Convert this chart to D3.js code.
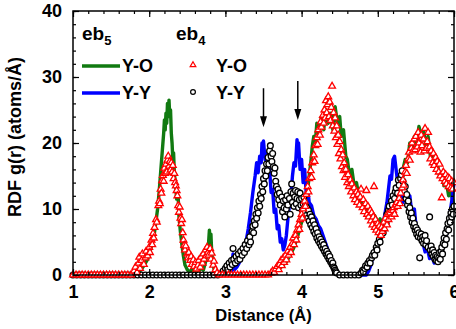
<!DOCTYPE html>
<html>
<head>
<meta charset="utf-8">
<script src="https://cdn.jsdelivr.net/npm/d3@7"></script>
<style>
    body { margin: 0; background: #fff; }
    svg text { font-family: "Liberation Sans", Arial, sans-serif; font-weight: bold; fill: #000; }
</style>
</head>
<body>
<div id="chart"></div>
<script>
// eb5 curves (lines)
const eb5YO = [
    [1.0, 0], [1.8, 0], [1.86, 0.4], [1.9, 0.9], [1.94, 1.6], [1.98, 2.4], [2.01, 3.5], [2.04, 4.8], [2.07, 6.5],
    [2.09, 8.2], [2.11, 10], [2.13, 12.5], [2.15, 15.5], [2.17, 18.5], [2.19, 21.5], [2.2, 23.5], [2.21, 22],
    [2.22, 24.5], [2.23, 23], [2.24, 26], [2.25, 24.5], [2.26, 26.5], [2.27, 24], [2.28, 25], [2.29, 21.5],
    [2.3, 20], [2.31, 17.5], [2.32, 18.5], [2.33, 15.5], [2.35, 13], [2.36, 11.5], [2.38, 12], [2.39, 9],
    [2.41, 6.5], [2.43, 4.5], [2.45, 2.8], [2.47, 1.5], [2.5, 0.8], [2.53, 0.4], [2.56, 0.9], [2.59, 0.3],
    [2.62, 0.8], [2.65, 0.4], [2.68, 1.2], [2.71, 0.7], [2.74, 2], [2.76, 3.5], [2.78, 5], [2.79, 6.8],
    [2.8, 5.2], [2.81, 6.2], [2.82, 3.5], [2.84, 1.5], [2.86, 0.4], [2.9, 0], [3.5, 0], [3.56, 0.2],
    [3.62, 0.5], [3.68, 0.7], [3.74, 1.3], [3.8, 2], [3.85, 3], [3.9, 4.2], [3.94, 5.5], [3.97, 6.8],
    [4.0, 8], [4.03, 9.5], [4.05, 10.5], [4.08, 13], [4.1, 15], [4.12, 17], [4.14, 19.5], [4.16, 21],
    [4.18, 20], [4.2, 23], [4.23, 21.5], [4.26, 24], [4.29, 22], [4.32, 25], [4.35, 23], [4.38, 24.5],
    [4.41, 22], [4.44, 25.5], [4.47, 23], [4.5, 24], [4.52, 21], [4.55, 22], [4.58, 18], [4.6, 17.5],
    [4.63, 15], [4.66, 16], [4.69, 13.5], [4.72, 14], [4.75, 12], [4.78, 11], [4.81, 10.5], [4.84, 9.5],
    [4.87, 10], [4.9, 9], [4.93, 8.5], [4.96, 9], [5.0, 8], [5.03, 8.5], [5.06, 7.5], [5.09, 8],
    [5.12, 8.5], [5.15, 9.5], [5.18, 9], [5.21, 11], [5.24, 13], [5.27, 12.5], [5.3, 15], [5.33, 16],
    [5.36, 17.5], [5.39, 17], [5.42, 20], [5.45, 19], [5.48, 21], [5.51, 20], [5.54, 22.5], [5.57, 21],
    [5.6, 22], [5.63, 19.5], [5.66, 21], [5.69, 18], [5.72, 18.5], [5.75, 16.5], [5.78, 17], [5.81, 15],
    [5.84, 15.5], [5.87, 13.5], [5.9, 14], [5.93, 12], [5.96, 12.5], [6.0, 10.5]
];

const eb5YY = [
    [1.0, 0], [3.05, 0], [3.08, 0.5], [3.1, 3.2], [3.12, 0.8], [3.15, 1.2], [3.18, 1.8], [3.21, 2.5],
    [3.24, 3.5], [3.27, 5], [3.3, 7], [3.33, 9.5], [3.36, 12.5], [3.39, 15], [3.41, 17], [3.43, 15.5],
    [3.45, 18], [3.47, 17], [3.48, 20], [3.49, 19], [3.5, 20.3], [3.52, 17.5], [3.54, 18.5], [3.56, 15],
    [3.58, 16], [3.6, 12.5], [3.62, 13], [3.64, 9.5], [3.66, 10], [3.68, 7], [3.7, 7.5], [3.72, 5],
    [3.74, 5.5], [3.76, 3.8], [3.78, 4.5], [3.8, 6], [3.82, 8.5], [3.84, 10.5], [3.86, 12], [3.88, 15],
    [3.9, 17], [3.92, 16.5], [3.94, 20.5], [3.95, 19], [3.96, 20], [3.98, 16], [4.0, 17.5], [4.02, 14],
    [4.04, 16], [4.06, 12.5], [4.08, 13], [4.1, 11], [4.13, 10.5], [4.16, 9], [4.19, 8.5], [4.22, 7.5],
    [4.25, 7], [4.28, 6], [4.31, 5], [4.34, 4], [4.37, 2.5], [4.4, 1.5], [4.43, 0.6], [4.47, 0.1],
    [4.5, 0], [4.85, 0], [4.88, 0.6], [4.91, 1.5], [4.94, 3], [4.97, 3.8], [5.0, 5], [5.03, 6],
    [5.06, 7.5], [5.09, 9], [5.12, 11], [5.14, 13], [5.16, 15], [5.18, 14.5], [5.2, 17.5], [5.22, 18],
    [5.24, 16], [5.26, 14], [5.28, 12.5], [5.3, 13], [5.33, 11], [5.36, 12], [5.39, 10.5], [5.42, 12],
    [5.45, 9], [5.48, 10], [5.5, 7.5], [5.53, 7], [5.56, 5.5], [5.59, 5], [5.62, 3.5], [5.65, 4],
    [5.68, 2.5], [5.71, 3], [5.74, 1.8], [5.77, 2.2], [5.8, 3.5], [5.83, 3], [5.86, 4.5], [5.89, 5.5],
    [5.92, 7.5], [5.95, 9.5], [5.98, 12], [6.0, 14]
];

// eb4 points (markers)
const eb4YO = [
    [1.0, 0], [1.04, 0], [1.08, 0], [1.12, 0], [1.16, 0], [1.2, 0], [1.24, 0], [1.28, 0], [1.32, 0], [1.36, 0],
    [1.4, 0], [1.44, 0], [1.48, 0], [1.52, 0], [1.56, 0], [1.6, 0], [1.64, 0], [1.68, 0], [1.72, 0], [1.76, 0],
    [1.8, 0.6], [1.82, 1.2], [1.84, 0.4], [1.86, 1.8], [1.87, 2.7], [1.88, 1.0], [1.9, 2.2], [1.91, 3.2],
    [1.93, 1.6], [1.95, 2.6], [1.96, 3.6], [1.98, 2.9], [2.0, 4.2], [2.01, 3.4], [2.03, 5.3], [2.04, 4.6],
    [2.05, 6.3], [2.06, 5.6], [2.07, 7.2], [2.09, 8.4], [2.1, 8.0], [2.12, 10.5], [2.13, 11.2], [2.14, 10.8],
    [2.15, 13.0], [2.16, 12.4], [2.17, 14.3], [2.18, 15.1], [2.19, 14.2], [2.2, 16.2], [2.21, 15.4],
    [2.22, 16.8], [2.23, 15.6], [2.24, 17.4], [2.25, 18.0], [2.26, 16.5], [2.27, 17.2], [2.28, 15.9],
    [2.29, 17.0], [2.3, 15.6], [2.31, 16.6], [2.32, 14.6], [2.33, 15.4], [2.34, 14.0], [2.35, 13.5],
    [2.36, 12.8], [2.37, 12.0], [2.38, 10.5], [2.39, 9.5], [2.4, 10.3], [2.41, 8.6], [2.42, 7.8], [2.43, 8.4],
    [2.44, 6.4], [2.45, 5.3], [2.46, 4.5], [2.47, 3.8], [2.48, 4.4], [2.5, 3.2], [2.51, 2.6], [2.52, 3.4],
    [2.54, 2.2], [2.55, 2.8], [2.56, 1.6], [2.58, 2.3], [2.59, 1.3], [2.61, 1.9], [2.62, 0.9], [2.64, 1.5],
    [2.65, 2.2], [2.67, 1.2], [2.68, 2.7], [2.7, 1.8], [2.71, 3.2], [2.72, 2.4], [2.74, 3.8], [2.75, 2.9],
    [2.76, 4.2], [2.77, 3.4], [2.78, 3.0], [2.8, 4.0], [2.81, 2.4], [2.82, 3.3], [2.84, 1.5], [2.85, 2.1],
    [2.87, 0.8], [2.89, 0.3],
    [2.92, 0], [2.96, 0], [3.0, 0], [3.04, 0], [3.08, 0], [3.12, 0], [3.16, 0], [3.2, 0], [3.24, 0],
    [3.28, 0], [3.32, 0], [3.36, 0], [3.4, 0], [3.44, 0], [3.48, 0], [3.52, 0], [3.56, 0],
    [3.6, 0.3], [3.62, 0.6], [3.64, 0.4], [3.66, 0.9], [3.68, 1.3], [3.7, 0.8], [3.71, 1.6], [3.73, 2.2],
    [3.74, 1.4], [3.76, 2.6], [3.77, 1.9], [3.79, 3.0], [3.8, 2.3], [3.82, 3.6], [3.83, 3.0], [3.85, 4.2],
    [3.86, 3.4], [3.88, 4.8], [3.89, 5.6], [3.9, 4.6], [3.92, 6.0], [3.93, 5.3], [3.94, 6.8], [3.96, 7.6],
    [3.97, 6.9], [3.98, 8.4], [4.0, 9.2], [4.01, 8.6], [4.02, 10.0], [4.04, 11.2], [4.05, 10.4], [4.06, 12.2],
    [4.08, 13.4], [4.09, 12.6], [4.1, 14.6], [4.12, 15.8], [4.13, 14.8], [4.14, 17.0], [4.16, 18.2],
    [4.17, 17.2], [4.18, 19.6], [4.2, 20.8], [4.21, 19.8], [4.22, 22.0], [4.24, 21.2], [4.25, 23.2],
    [4.26, 22.4], [4.28, 24.2], [4.29, 23.0], [4.3, 25.0], [4.31, 23.8], [4.32, 26.4], [4.33, 24.6],
    [4.34, 25.8], [4.35, 27.0], [4.36, 24.0], [4.37, 26.2], [4.38, 23.4], [4.39, 25.4], [4.4, 28.6],
    [4.41, 22.6], [4.42, 24.6], [4.43, 21.8], [4.44, 23.8], [4.45, 20.8], [4.46, 22.6], [4.47, 19.8],
    [4.48, 21.2], [4.49, 18.4], [4.5, 20.2], [4.51, 17.6], [4.52, 19.0], [4.53, 16.4], [4.54, 18.2],
    [4.55, 15.8], [4.56, 17.0], [4.57, 14.8], [4.58, 16.0], [4.6, 14.0], [4.61, 15.2], [4.62, 13.4],
    [4.64, 14.4], [4.65, 12.6], [4.66, 13.8], [4.68, 12.0], [4.69, 13.2], [4.7, 11.4], [4.72, 12.6],
    [4.73, 11.0], [4.74, 12.2], [4.76, 10.6], [4.77, 11.8], [4.78, 13.0], [4.8, 10.2], [4.81, 11.4],
    [4.82, 9.6], [4.84, 10.8], [4.85, 12.8], [4.86, 9.2], [4.87, 10.4], [4.88, 8.8], [4.9, 9.8], [4.91, 8.2],
    [4.92, 9.4], [4.93, 7.6], [4.94, 8.8], [4.95, 13.4], [4.96, 7.2], [4.97, 8.4], [4.98, 6.8], [5.0, 7.8],
    [5.01, 6.4], [5.02, 7.4], [5.04, 6.0], [5.05, 7.2], [5.06, 6.6], [5.08, 8.0], [5.09, 7.0], [5.1, 8.6],
    [5.12, 7.6], [5.13, 9.2], [5.14, 8.4], [5.16, 9.4], [5.18, 8.8], [5.2, 9.8], [5.21, 10.2], [5.22, 9.2],
    [5.24, 10.6], [5.25, 11.0], [5.26, 10.4], [5.28, 11.6], [5.29, 10.8], [5.3, 12.4], [5.32, 13.2],
    [5.33, 14.4], [5.34, 13.6], [5.36, 15.6], [5.37, 16.6], [5.38, 15.4], [5.4, 17.6], [5.41, 18.6],
    [5.42, 17.4], [5.44, 19.2], [5.45, 20.0], [5.46, 18.8], [5.48, 20.6], [5.49, 19.0], [5.5, 21.0],
    [5.52, 19.4], [5.53, 21.6], [5.54, 20.0], [5.56, 18.6], [5.57, 21.2], [5.58, 19.6], [5.6, 20.6],
    [5.61, 18.8], [5.62, 22.2], [5.64, 19.2], [5.65, 20.2], [5.66, 21.6], [5.68, 19.4], [5.69, 17.6],
    [5.7, 18.8], [5.72, 17.0], [5.73, 18.4], [5.74, 16.6], [5.76, 17.8], [5.77, 16.0], [5.78, 17.2],
    [5.8, 15.6], [5.81, 16.8], [5.82, 15.0], [5.84, 11.7], [5.85, 14.6], [5.86, 15.6], [5.88, 14.2],
    [5.89, 15.2], [5.9, 13.8], [5.92, 14.8], [5.93, 13.4], [5.94, 14.6], [5.96, 13.2], [5.97, 14.2],
    [5.98, 13.0], [6.0, 14.0]
];

const eb4YY = [
    [1.0, 0], [1.05, 0], [1.1, 0], [1.15, 0], [1.2, 0], [1.25, 0], [1.3, 0], [1.35, 0], [1.4, 0], [1.45, 0],
    [1.5, 0], [1.55, 0], [1.6, 0], [1.65, 0], [1.7, 0], [1.75, 0], [1.8, 0], [1.85, 0], [1.9, 0], [1.95, 0],
    [2.0, 0], [2.05, 0], [2.1, 0], [2.15, 0], [2.2, 0], [2.25, 0], [2.3, 0], [2.35, 0], [2.4, 0], [2.45, 0],
    [2.5, 0], [2.55, 0], [2.6, 0], [2.65, 0], [2.7, 0], [2.75, 0], [2.8, 0], [2.85, 0], [2.9, 0],
    [2.95, 0.2], [2.97, 0.6], [2.99, 0.3], [3.0, 1.0], [3.02, 1.4], [3.03, 0.8], [3.05, 1.8], [3.06, 1.2],
    [3.08, 2.2], [3.09, 1.6], [3.1, 4.0], [3.11, 2.4], [3.13, 1.8], [3.14, 2.8], [3.16, 2.2], [3.17, 3.2],
    [3.19, 2.4], [3.2, 3.6], [3.22, 3.0], [3.23, 4.0], [3.25, 3.4], [3.26, 4.6], [3.28, 4.0], [3.29, 5.2],
    [3.31, 4.6], [3.32, 5.8], [3.33, 5.0], [3.35, 6.6], [3.36, 7.4], [3.37, 6.4], [3.38, 8.2], [3.39, 7.6],
    [3.4, 9.2], [3.41, 8.6], [3.42, 10.2], [3.43, 9.4], [3.44, 11.2], [3.45, 10.4], [3.46, 12.2], [3.47, 11.6],
    [3.48, 13.4], [3.49, 12.6], [3.5, 14.6], [3.51, 13.8], [3.52, 15.8], [3.53, 15.0], [3.54, 16.8],
    [3.55, 15.8], [3.56, 17.8], [3.57, 16.8], [3.58, 18.8], [3.59, 19.6], [3.6, 18.0], [3.61, 17.2],
    [3.62, 18.4], [3.63, 16.4], [3.64, 15.4], [3.65, 16.2], [3.66, 14.2], [3.67, 13.4], [3.68, 12.2],
    [3.69, 13.0], [3.7, 11.4], [3.71, 12.4], [3.72, 10.6], [3.74, 11.8], [3.75, 9.6], [3.76, 11.2],
    [3.77, 10.2], [3.78, 8.8], [3.79, 11.4], [3.8, 10.0], [3.81, 12.0], [3.82, 10.6], [3.84, 11.6],
    [3.85, 9.2], [3.86, 12.6], [3.87, 13.8], [3.88, 11.0], [3.89, 12.4], [3.9, 10.4], [3.91, 11.8],
    [3.92, 12.8], [3.93, 10.8], [3.94, 11.6], [3.95, 12.6], [3.96, 10.2], [3.97, 11.4], [3.98, 12.4],
    [3.99, 10.6], [4.0, 11.6], [4.01, 9.8], [4.02, 10.8], [4.03, 11.8], [4.04, 9.6], [4.05, 10.6],
    [4.06, 9.0], [4.07, 10.2], [4.08, 8.6], [4.09, 9.8], [4.1, 8.2], [4.11, 9.2], [4.12, 7.6], [4.13, 8.8],
    [4.14, 7.2], [4.15, 8.2], [4.16, 6.6], [4.17, 7.6], [4.18, 6.2], [4.19, 7.0], [4.2, 5.6], [4.21, 6.4],
    [4.22, 5.2], [4.23, 5.8], [4.24, 4.8], [4.25, 5.4], [4.26, 4.4], [4.27, 5.0], [4.28, 4.0], [4.29, 4.6],
    [4.3, 3.6], [4.31, 4.0], [4.32, 3.2], [4.33, 3.6], [4.34, 2.8], [4.35, 3.2], [4.36, 2.4], [4.37, 2.8],
    [4.38, 2.0], [4.39, 2.2], [4.4, 1.6], [4.41, 1.8], [4.42, 1.2], [4.43, 1.0], [4.44, 0.7], [4.45, 0.5],
    [4.46, 0.3], [4.5, 0], [4.55, 0], [4.6, 0], [4.65, 0], [4.7, 0], [4.75, 0],
    [4.78, 0.3], [4.8, 0.7], [4.81, 0.5], [4.83, 1.0], [4.84, 1.4], [4.86, 1.2], [4.87, 1.8], [4.89, 2.2],
    [4.9, 1.8], [4.92, 2.6], [4.93, 3.0], [4.95, 3.4], [4.96, 3.0], [4.98, 4.2], [4.99, 3.8], [5.0, 4.8],
    [5.02, 5.4], [5.03, 5.0], [5.04, 6.0], [5.06, 6.8], [5.07, 6.4], [5.08, 7.6], [5.1, 8.2], [5.11, 7.8],
    [5.12, 9.2], [5.14, 9.8], [5.15, 10.4], [5.16, 9.6], [5.18, 11.2], [5.19, 10.6], [5.2, 12.0],
    [5.22, 11.6], [5.23, 12.6], [5.24, 13.2], [5.26, 12.4], [5.27, 14.4], [5.28, 13.6], [5.3, 14.6],
    [5.31, 15.2], [5.32, 15.8], [5.33, 14.2], [5.34, 13.4], [5.35, 12.6], [5.36, 13.4], [5.37, 11.6],
    [5.38, 12.2], [5.39, 10.6], [5.4, 11.2], [5.41, 9.6], [5.42, 10.2], [5.43, 8.8], [5.44, 9.4],
    [5.45, 8.0], [5.46, 8.6], [5.47, 7.4], [5.48, 7.8], [5.49, 6.8], [5.5, 7.2], [5.51, 6.2], [5.52, 6.8],
    [5.53, 5.8], [5.54, 6.4], [5.55, 2.6], [5.56, 5.6], [5.57, 6.2], [5.58, 5.2], [5.59, 5.8], [5.6, 4.8],
    [5.61, 5.4], [5.62, 6.0], [5.63, 4.6], [5.64, 5.2], [5.66, 4.2], [5.68, 8.8], [5.69, 3.8], [5.7, 4.4],
    [5.71, 3.2], [5.72, 3.8], [5.73, 2.8], [5.74, 3.4], [5.75, 2.4], [5.76, 3.0], [5.77, 2.2], [5.78, 2.8],
    [5.79, 2.0], [5.8, 2.6], [5.81, 3.4], [5.82, 2.4], [5.83, 3.6], [5.84, 4.2], [5.85, 3.2], [5.86, 4.8],
    [5.87, 5.6], [5.88, 4.6], [5.89, 6.4], [5.9, 5.4], [5.91, 7.0], [5.92, 7.8], [5.93, 6.8], [5.94, 8.6],
    [5.95, 8.0], [5.96, 9.4], [5.97, 8.8], [5.98, 10.0], [5.99, 9.2], [6.0, 10.4]
];

// arrows marking the split Y-Y peak
const arrowX = [3.5, 3.95];
const arrowTop = [28.3, 29.4];
const arrowTip = [22.4, 23.5];

const xTicks = [1, 2, 3, 4, 5, 6];
const yTicks = [0, 10, 20, 30, 40];

const width = 456, height = 329;
const margin = { top: 11, right: 2, bottom: 54, left: 73 };

const svg = d3.select("#chart").append("svg")
    .attr("width", width)
    .attr("height", height);

const x = d3.scaleLinear().domain([1, 6]).range([margin.left, width - margin.right]);
const y = d3.scaleLinear().domain([0, 40]).range([height - margin.bottom, margin.top]);

const green = "#117a11", blue = "#0000ff", red = "#ff0000";

// lines
const line = d3.line().x(d => x(d[0])).y(d => y(d[1]));

svg.append("path").datum(eb5YO)
    .attr("fill", "none").attr("stroke", green).attr("stroke-width", 3.4)
    .attr("stroke-linejoin", "round")
    .attr("d", line);

svg.append("path").datum(eb5YY)
    .attr("fill", "none").attr("stroke", blue).attr("stroke-width", 3.4)
    .attr("stroke-linejoin", "round")
    .attr("d", line);

// markers
const tri = d3.symbol().type(d3.symbolTriangle).size(20);

svg.append("g").selectAll("circle")
    .data(eb4YY)
    .join("circle")
    .attr("cx", d => x(d[0]))
    .attr("cy", d => y(d[1]))
    .attr("r", 2.9)
    .attr("fill", "#fff")
    .attr("stroke", "#000")
    .attr("stroke-width", 1.3);

svg.append("g").selectAll("path")
    .data(eb4YO)
    .join("path")
    .attr("transform", d => `translate(${x(d[0])},${y(d[1])})`)
    .attr("d", tri)
    .attr("fill", "#fff")
    .attr("stroke", red)
    .attr("stroke-width", 1.3);

// frame + ticks (all inward)
const g = svg.append("g");
g.append("rect")
    .attr("x", x(1)).attr("y", y(40))
    .attr("width", x(6) - x(1)).attr("height", y(0) - y(40))
    .attr("fill", "none").attr("stroke", "#000").attr("stroke-width", 1.5);

const xMinor = d3.range(1, 6.001, 0.2);
const yMinor = d3.range(0, 40.001, 2);

const bottomAxis = d3.axisBottom(x).tickValues(xMinor).tickSize(-3).tickFormat("");
const topAxis = d3.axisTop(x).tickValues(xMinor).tickSize(-3).tickFormat("");
const leftAxis = d3.axisLeft(y).tickValues(yMinor).tickSize(-3).tickFormat("");
const rightAxis = d3.axisRight(y).tickValues(yMinor).tickSize(-3).tickFormat("");

function styleAxis(sel) {
    sel.select(".domain").remove();
    sel.selectAll("line").attr("stroke", "#000").attr("stroke-width", 1.2);
}

g.append("g").attr("transform", `translate(0,${y(0)})`).call(bottomAxis).call(styleAxis);
g.append("g").attr("transform", `translate(0,${y(40)})`).call(topAxis).call(styleAxis);
g.append("g").attr("transform", `translate(${x(1)},0)`).call(leftAxis).call(styleAxis);
g.append("g").attr("transform", `translate(${x(6)},0)`).call(rightAxis).call(styleAxis);

// major ticks with labels
const bottomMajor = d3.axisBottom(x).tickValues(xTicks).tickSize(-6).tickPadding(11).tickFormat(d3.format("d"));
const leftMajor = d3.axisLeft(y).tickValues(yTicks).tickSize(-6).tickPadding(11).tickFormat(d3.format("d"));

g.append("g").attr("transform", `translate(0,${y(0)})`).call(bottomMajor).call(styleAxis)
    .selectAll("text").attr("font-size", 18).attr("font-family", null).attr("dy", "0.68em");
g.append("g").attr("transform", `translate(${x(1)},0)`).call(leftMajor).call(styleAxis)
    .selectAll("text").attr("font-size", 18).attr("font-family", null);
g.append("g").attr("transform", `translate(0,${y(40)})`)
    .call(d3.axisTop(x).tickValues(xTicks).tickSize(-6).tickFormat("")).call(styleAxis);
g.append("g").attr("transform", `translate(${x(6)},0)`)
    .call(d3.axisRight(y).tickValues(yTicks).tickSize(-6).tickFormat("")).call(styleAxis);

// axis titles
svg.append("text")
    .attr("x", (x(1) + x(6)) / 2).attr("y", 321)
    .attr("text-anchor", "middle").attr("font-size", 16.5)
    .text("Distance (Å)");

svg.append("text")
    .attr("transform", `translate(21,${(y(0) + y(40)) / 2 - 6}) rotate(-90)`)
    .attr("text-anchor", "middle").attr("font-size", 18)
    .text("RDF g(r) (atoms/Å)");

// arrows
const arrows = svg.append("g");
arrowX.forEach((ax, i) => {
    const px = x(ax), top = y(arrowTop[i]), tip = y(arrowTip[i]);
    arrows.append("line")
        .attr("x1", px).attr("x2", px).attr("y1", top).attr("y2", tip - 8)
        .attr("stroke", "#000").attr("stroke-width", 1.5);
    arrows.append("path")
        .attr("d", `M${px - 3.5},${tip - 11} L${px + 3.5},${tip - 11} L${px},${tip} Z`)
        .attr("fill", "#000");
});

// legend
const leg = svg.append("g");
function label(xp, yp, main, sub, size) {
    const t = leg.append("text").attr("x", xp).attr("y", yp).attr("font-size", size || 18);
    t.append("tspan").text(main);
    if (sub) t.append("tspan").attr("dy", 5).attr("font-size", 13).text(sub);
}
label(82, 40, "eb", "5", 19);
label(176, 40, "eb", "4", 19);

leg.append("line").attr("x1", 82).attr("x2", 120).attr("y1", 66).attr("y2", 66)
    .attr("stroke", green).attr("stroke-width", 3.4);
leg.append("line").attr("x1", 82).attr("x2", 120).attr("y1", 93).attr("y2", 93)
    .attr("stroke", blue).attr("stroke-width", 3.4);
label(122, 72, "Y-O");
label(122, 99, "Y-Y");

leg.append("path").attr("transform", "translate(193,65)").attr("d", d3.symbol().type(d3.symbolTriangle).size(14))
    .attr("fill", "#fff").attr("stroke", red).attr("stroke-width", 1.2);
leg.append("circle").attr("cx", 193).attr("cy", 92).attr("r", 2.4)
    .attr("fill", "#fff").attr("stroke", "#000").attr("stroke-width", 1.2);
label(216, 72, "Y-O");
label(216, 99, "Y-Y");
</script>
</body>
</html>
